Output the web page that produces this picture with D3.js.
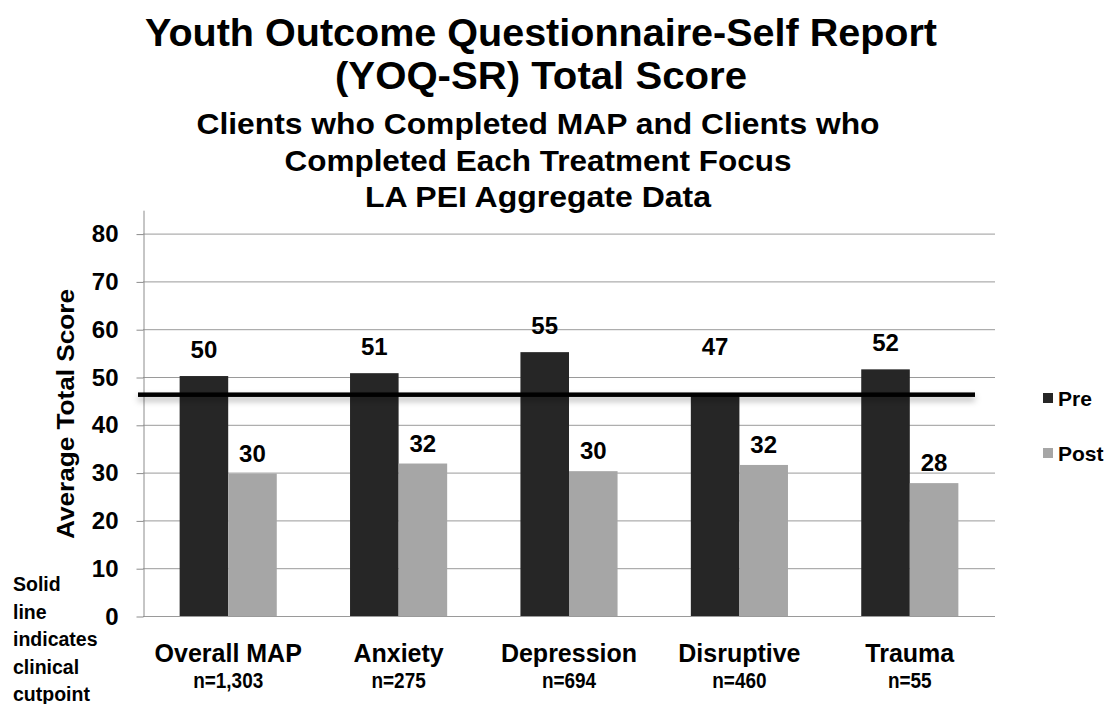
<!DOCTYPE html>
<html>
<head>
<meta charset="utf-8">
<script src="https://cdn.jsdelivr.net/npm/d3@7"></script>
<style>
  body { margin: 0; background: #fff; }
  svg text { font-family: "Liberation Sans", Arial, sans-serif; font-weight: bold; fill: #000; }
</style>
</head>
<body>
<div id="vis"></div>
<script>
const FRAME_WIDTH = 1109;
const FRAME_HEIGHT = 704;

// data
const categories = ["Overall MAP", "Anxiety", "Depression", "Disruptive", "Trauma"];
const sampleSizes = ["n=1,303", "n=275", "n=694", "n=460", "n=55"];
const seriesNames = ["Pre", "Post"];
const preScores = [50.2, 50.8, 55.2, 46.6, 51.6];
const postScores = [29.8, 31.9, 30.3, 31.6, 27.8];
const yTicks = [0, 10, 20, 30, 40, 50, 60, 70, 80];
const clinicalCutpoint = 46.3;
const titleLines = ["Youth Outcome Questionnaire-Self Report", "(YOQ-SR) Total Score"];
const subtitleLines = ["Clients who Completed MAP and Clients who", "Completed Each Treatment Focus", "LA PEI Aggregate Data"];
const noteLines = ["Solid", "line", "indicates", "clinical", "cutpoint"];

const COLORS = {Pre: "#262626", Post: "#a6a6a6"};
const PLOT = {left: 143, right: 995, bottom: 616};

const FRAME = d3.select("#vis")
    .append("svg")
    .attr("width", FRAME_WIDTH)
    .attr("height", FRAME_HEIGHT);

const defs = FRAME.append("defs");
defs.append("filter")
    .attr("id", "shadow")
    .attr("filterUnits", "userSpaceOnUse")
    .attr("x", 100).attr("y", 360)
    .attr("width", 920).attr("height", 80)
  .append("feDropShadow")
    .attr("dx", 0).attr("dy", 4)
    .attr("stdDeviation", 3)
    .attr("flood-color", "#000")
    .attr("flood-opacity", 0.3);

// titles
const TITLE_WIDTHS = [792, 412];
FRAME.selectAll(".title")
    .data(titleLines)
    .enter()
    .append("text")
      .attr("class", "title")
      .attr("x", 541)
      .attr("y", (d, i) => 46 + i * 43)
      .attr("text-anchor", "middle")
      .attr("font-size", 39)
      .attr("textLength", (d, i) => TITLE_WIDTHS[i])
      .attr("lengthAdjust", "spacingAndGlyphs")
      .text(d => d);

const SUB_WIDTHS = [683, 507, 346];
FRAME.selectAll(".subtitle")
    .data(subtitleLines)
    .enter()
    .append("text")
      .attr("class", "subtitle")
      .attr("x", 538)
      .attr("y", (d, i) => 134 + i * 36.5)
      .attr("text-anchor", "middle")
      .attr("font-size", 30)
      .attr("textLength", (d, i) => SUB_WIDTHS[i])
      .attr("lengthAdjust", "spacingAndGlyphs")
      .text(d => d);

// scales
const Y_SCALE = d3.scaleLinear()
    .domain([0, 85])
    .range([PLOT.bottom, PLOT.bottom - 85 * 4.78]);

const X_SCALE = d3.scaleBand()
    .domain(categories)
    .range([PLOT.left, PLOT.right])
    .paddingInner(0.43)
    .paddingOuter(0.215);

const X_SUB = d3.scaleBand()
    .domain(seriesNames)
    .range([0, X_SCALE.bandwidth()]);

// gridlines
FRAME.append("g")
    .selectAll("line")
    .data(yTicks)
    .enter()
    .append("line")
      .attr("x1", PLOT.left)
      .attr("x2", PLOT.right)
      .attr("y1", d => Y_SCALE(d) + 0.5)
      .attr("y2", d => Y_SCALE(d) + 0.5)
      .attr("stroke", "#9a9a9a")
      .attr("stroke-width", 1);

// y axis
const yAxis = FRAME.append("g")
    .attr("transform", "translate(" + (PLOT.left + 0.5) + ",0.5)")
    .call(d3.axisLeft(Y_SCALE).tickValues(yTicks).tickSize(7).tickPadding(18).tickSizeOuter(0));
yAxis.select(".domain").attr("stroke", "#8c8c8c");
yAxis.selectAll(".tick line").attr("stroke", "#8c8c8c");
yAxis.selectAll(".tick text")
    .attr("font-size", 24)
    .attr("font-family", "Liberation Sans, Arial, sans-serif")
    .attr("font-weight", "bold")
    .attr("fill", "#000");

FRAME.append("text")
    .attr("transform", "translate(74,414) rotate(-90)")
    .attr("text-anchor", "middle")
    .attr("font-size", 24)
    .attr("textLength", 250)
    .attr("lengthAdjust", "spacingAndGlyphs")
    .text("Average Total Score");

// bars
const rows = categories.map((c, i) => ({
    category: c,
    values: [{series: "Pre", value: preScores[i]}, {series: "Post", value: postScores[i]}]
}));

const groups = FRAME.selectAll(".group")
    .data(rows)
    .enter()
    .append("g")
      .attr("class", "group")
      .attr("transform", d => "translate(" + X_SCALE(d.category) + ",0)");

groups.selectAll("rect")
    .data(d => d.values)
    .enter()
    .append("rect")
      .attr("x", d => X_SUB(d.series))
      .attr("y", d => Y_SCALE(d.value))
      .attr("width", X_SUB.bandwidth())
      .attr("height", d => PLOT.bottom - Y_SCALE(d.value))
      .attr("fill", d => COLORS[d.series]);

// value labels (lifted when the bar top sits on the cutpoint line)
const cutY = Y_SCALE(clinicalCutpoint);
groups.selectAll(".value")
    .data(d => d.values)
    .enter()
    .append("text")
      .attr("class", "value")
      .attr("x", d => X_SUB(d.series) + X_SUB.bandwidth() / 2)
      .attr("y", d => {
          const top = Y_SCALE(d.value);
          if (d.series === "Post") return top - 12;
          const lift = Math.abs(top - cutY) < 8 ? 20 : 0;
          return top - 18 - lift;
      })
      .attr("text-anchor", "middle")
      .attr("font-size", 24)
      .text(d => d3.format(".0f")(d.value));

// clinical cutpoint line
FRAME.append("rect")
    .attr("x", 138)
    .attr("width", 975 - 138)
    .attr("y", cutY - 2.25)
    .attr("height", 4.5)
    .attr("fill", "#000")
    .attr("filter", "url(#shadow)");

// category labels
FRAME.selectAll(".cat")
    .data(categories)
    .enter()
    .append("text")
      .attr("class", "cat")
      .attr("x", d => X_SCALE(d) + X_SCALE.bandwidth() / 2)
      .attr("y", 662)
      .attr("text-anchor", "middle")
      .attr("font-size", 25)
      .text(d => d);

FRAME.selectAll(".nlabel")
    .data(sampleSizes)
    .enter()
    .append("text")
      .attr("class", "nlabel")
      .attr("x", (d, i) => X_SCALE(categories[i]) + X_SCALE.bandwidth() / 2)
      .attr("y", 688)
      .attr("text-anchor", "middle")
      .attr("font-size", 22)
      .text(d => d)
      .each(function() {
          const w = this.getComputedTextLength();
          d3.select(this)
              .attr("textLength", w * 0.86)
              .attr("lengthAdjust", "spacingAndGlyphs");
      });

// legend
const legend = FRAME.selectAll(".legend")
    .data(seriesNames)
    .enter()
    .append("g")
      .attr("class", "legend")
      .attr("transform", (d, i) => "translate(1043," + (393 + i * 55) + ")");
legend.append("rect")
    .attr("width", 10)
    .attr("height", 10)
    .attr("fill", d => COLORS[d]);
legend.append("text")
    .attr("x", 15)
    .attr("y", 13)
    .attr("font-size", 21)
    .text(d => d);

// note
FRAME.selectAll(".note")
    .data(noteLines)
    .enter()
    .append("text")
      .attr("class", "note")
      .attr("x", 13)
      .attr("y", (d, i) => 591 + i * 27.5)
      .attr("font-size", 19.5)
      .text(d => d);
</script>
</body>
</html>
